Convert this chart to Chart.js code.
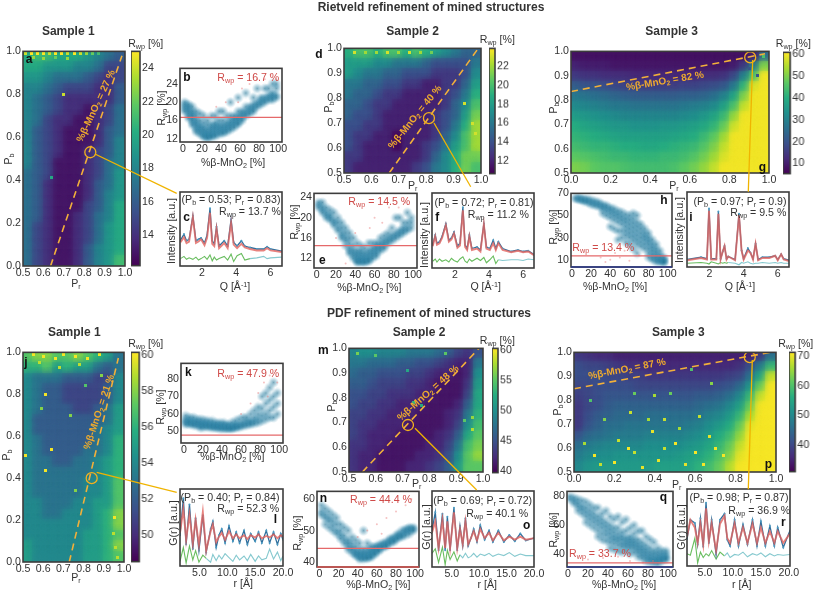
<!DOCTYPE html>
<html><head><meta charset="utf-8">
<style>
html,body{margin:0;padding:0;background:#fff;width:817px;height:592px;overflow:hidden}
#root{position:relative;width:817px;height:592px;font-family:"Liberation Sans",Arial,sans-serif}
canvas{position:absolute}
.t{position:absolute;white-space:nowrap;z-index:5;line-height:1;color:#333}
sub{font-size:68%;line-height:0;vertical-align:-0.28em}
sup{font-size:68%;line-height:0;vertical-align:0.4em}
svg{position:absolute;left:0;top:0;z-index:4}
</style>
<script src="https://cdn.jsdelivr.net/npm/chart.js@4"></script>
</head><body><div id="root"><svg width="817" height="592" id="ov"></svg></div>
<script>
/* ---------- heat maps: rows run from high Pb to low Pb, columns from low Pr to high Pr ---------- */
const heatA=[[20,21,21,20,20,20,19,18,17,16],[20,20,19,19,19,18,18,17,15,15],[19,19,18,17,17,17,16,15,14,15],[18,18,17,16,15,15,15,14,14,16],[18,17,16,15,14,14,14,14,14,16],[18,17,16,15,14,14,13,14,15,17],[18,17,15,14,14,13,13,14,15,17],[18,16,15,14,13,13,13,14,16,17],[18,16,15,14,13,13,13,14,16,18],[18,16,15,14,13,13,14,15,16,18],[18,16,15,13,13,13,14,15,17,18],[17,16,15,13,13,13,14,15,17,19],[17,16,14,13,13,13,14,16,17,19],[17,16,14,13,13,13,14,16,18,19],[17,16,14,13,13,13,15,16,18,20],[17,16,14,13,13,14,15,17,18,20],[17,15,14,13,13,14,15,17,19,20],[17,15,14,13,13,14,15,17,19,20],[17,15,14,13,13,14,16,18,19,20],[17,15,14,13,13,14,16,18,19,21]];
const heatD=[[19,20,20,19,20,20,19,20,19,18,17,16,15,15],[18,18,18,17,17,16,16,16,15,14,14,14,14,16],[18,17,16,16,15,15,14,14,14,13,13,13,14,17],[16,16,15,15,14,14,13,13,12,12,13,13,15,18],[16,15,15,14,13,13,12,12,12,12,13,14,16,19],[15,15,14,13,13,12,12,12,12,12,13,15,17,20],[15,14,14,13,12,12,12,12,12,13,14,15,18,21],[14,14,13,13,12,12,12,12,12,13,14,16,19,22],[14,13,13,12,12,11,12,12,12,13,15,17,20,22],[14,13,12,12,12,11,12,12,13,14,16,18,20,22],[13,13,12,12,12,12,12,12,13,15,17,19,21,21],[13,12,12,12,12,12,12,13,14,16,17,19,21,20]];
const heatG=[[8,8,8,8,8,8,8,8,8,8,8,8,8,8,8,8,8,8,10,25],[11,10,10,10,9,9,9,9,9,9,9,9,9,9,9,9,10,15,28,50],[15,14,14,13,13,13,12,12,12,12,12,12,12,13,13,14,18,30,45,60],[22,20,20,19,18,17,17,16,16,16,16,17,17,18,19,21,28,42,58,60],[28,27,26,25,24,23,22,22,22,22,22,23,23,24,26,30,38,50,60,60],[32,31,30,29,28,28,27,27,27,27,27,28,29,30,32,37,45,56,60,60],[36,35,34,33,32,31,31,31,31,31,31,32,33,35,38,43,52,60,60,60],[40,38,37,36,35,35,34,34,34,35,35,36,37,39,42,48,57,60,60,60],[42,41,40,39,38,37,37,37,37,37,38,39,40,43,47,53,60,60,60,60],[44,43,42,42,41,40,40,39,39,40,41,42,43,46,50,56,60,60,60,60],[47,46,45,44,43,43,42,42,42,43,43,44,46,49,53,58,60,60,60,60],[50,49,47,46,46,45,44,44,44,44,45,47,49,52,56,60,60,60,60,60]];
const heatJ=[[57,58,58,57,57,58,57,56,55,53],[56,56,57,55,56,55,55,53,52,53],[54,53,53,53,52,52,52,51,51,54],[54,53,52,52,51,51,51,51,52,54],[54,53,52,52,51,51,51,51,52,54],[54,53,52,52,52,51,51,52,53,55],[54,52,52,52,52,52,52,52,53,55],[54,52,52,52,52,52,52,53,54,55],[54,53,52,52,52,52,52,53,54,56],[54,53,52,52,52,52,53,53,54,56],[54,53,53,52,52,53,53,54,55,56],[54,53,53,53,53,53,53,54,55,56],[54,53,53,53,53,53,54,54,55,57],[54,53,53,53,53,53,54,54,55,57],[54,54,53,53,53,54,54,55,55,57],[54,54,53,53,54,54,54,55,56,58],[54,54,54,54,54,54,54,55,56,58],[54,54,54,54,54,54,55,55,56,57],[55,54,54,54,54,54,55,55,56,58],[55,54,54,54,54,54,55,55,56,57]];
const heatM=[[49,50,50,49,49,49,48,48,48,47,46,44,43,45],[48,48,47,47,47,46,46,45,45,44,43,42,42,48],[47,46,46,45,45,45,44,44,43,42,42,41,42,50],[46,46,45,44,44,44,43,43,42,41,41,41,43,51],[45,45,44,44,43,43,43,42,42,41,41,41,44,52],[45,44,44,43,43,42,42,42,41,41,41,42,46,52],[44,44,43,43,42,42,42,41,41,41,42,43,48,53],[44,43,43,42,42,42,41,41,41,41,42,44,50,54],[44,43,42,42,42,41,41,41,41,42,43,46,52,55],[43,43,42,42,41,41,41,41,42,42,44,48,54,56],[43,42,42,41,41,41,41,42,42,43,45,50,55,57],[43,42,42,41,41,41,42,42,43,44,46,51,55,55]];
const heatP=[[38,37,36,36,35,35,35,35,35,35,35,35,35,35,35,35,35,35,38,46],[41,40,40,39,38,37,37,36,36,36,36,36,36,36,36,36,37,41,48,58],[41,41,41,40,40,39,39,38,38,38,38,38,38,38,38,39,40,46,55,68],[40,40,41,41,41,41,40,40,40,40,40,40,40,40,41,42,45,52,62,71],[39,40,41,42,42,42,42,42,42,42,42,42,43,43,44,46,50,58,68,71],[38,40,41,43,44,44,44,44,44,44,44,44,45,46,47,50,54,62,71,71],[38,41,43,44,45,45,45,46,46,46,46,46,47,49,50,53,58,66,71,71],[38,42,44,46,46,47,47,47,47,47,47,48,49,51,53,56,62,70,71,71],[42,45,46,47,48,48,48,49,49,49,49,50,51,53,56,59,65,71,71,71],[46,48,49,50,50,50,50,51,51,51,51,52,53,55,58,62,68,71,71,71],[48,50,51,51,52,52,52,52,52,52,53,54,55,57,60,64,70,71,71,71],[50,52,53,53,53,53,53,53,54,54,54,55,57,59,62,67,71,71,71,71]];
/* isolated hot cells [Pr, Pb, Rwp] */
const hotA=[[.7,.8,24],[.64,.41,20],[.51,.988,24],[.54,.988,25],[.57,.988,25],[.6,.988,25],[.63,.988,24],[.66,.988,25],[.69,.988,25],[.72,.988,24],[.75,.988,25],[.78,.988,24],[.81,.988,23],[.84,.988,22],[.87,.988,21],[.55,.97,23],[.6,.965,23],[.66,.97,22],[.72,.965,23]];
const hotD=[[.54,.985,23],[.58,.985,22],[.62,.985,22],[.66,.985,23],[.7,.985,22],[.74,.985,23],[.78,.985,22],[.82,.985,21],[.94,.78,23],[.97,.7,23],[.98,.66,23]];
const hotG=[[.97,.98,45],[.94,.9,20],[.9,.93,20]];
const hotJ=[[.61,.8,60],[.733,.7,58],[.643,.536,60],[.51,.51,60],[.613,.437,60],[.81,.84,57],[.594,.73,58],[.89,.889,58],[.955,.214,60],[.96,.07,59],[.947,.135,59],[.97,.02,59],[.76,.34,58],[.55,.99,60],[.6,.98,60],[.66,.97,60],[.7,.99,60],[.76,.98,60],[.82,.97,60],[.88,.99,60],[.58,.95,59],[.68,.93,59],[.78,.94,59]];
const hotM=[[.53,.98,56],[.6,.97,55],[.72,.91,52],[.74,.78,53],[.77,.77,52],[.86,.98,55],[.96,.72,57],[.93,.71,55],[.96,.67,58]];
const hotP=[[.1,.57,71],[.05,.62,66],[.13,.53,68],[.28,.75,68],[.27,.6,71],[.2,.54,71],[.4,.82,66],[.39,.67,70],[.3,.58,68],[.45,.72,68],[.5,.62,71],[.42,.55,70],[.45,.6,68],[.55,.53,70],[.6,.58,71],[.58,.93,60],[.52,.68,66],[.68,.87,64],[.7,.6,71],[.67,.65,70],[.74,.57,71],[.37,.72,66],[.15,.72,64],[.08,.8,60],[.3,.83,62],[.62,.73,68],[.64,.53,71],[.34,.52,70],[.22,.63,68],[.48,.83,62]];

/* ---------- scatter clouds: each entry is [%beta, Rwp, Rwp, ...] ---------- */
const cloudB=[[2,20,19.5,19,18.5,18],[6,19.5,19,18.5,18,17.5,17,16.5],[10,19,18,17.5,17,16.5,16,15.5,15],[14,18,17,16,15.5,15,14.5,14,13.5],[18,17.5,16,15,14.5,14,13.5,13],[22,17,15.5,14.5,14,13.5,13,12.7,12.4],[26,16,15,14,13.5,13,12.7,12.4,12.2],[30,17,15,14.5,14,13.5,13,12.7,12.4],[34,17,15.5,15,14.5,14,13.5,13,12.6],[38,18,16,15,14.5,14,13.5,13],[42,18,16,15,14.5,14,13.5,13.2],[46,17,15.5,15,14.5,14,13.5],[50,20,17,16,15.5,15,14.5,14],[54,17,16.5,16,15.5,15,14.5],[58,21,18,17,16.5,16,15.5,15.2],[62,18,17.5,17,16.5,16],[66,22,19,18,17.5,17],[70,19,18.5,18,17.5],[74,21,19.5,19,18.5,18],[78,23,20,19.5,19],[82,21,20.5,20,19.5],[86,23,21,20.5,20],[90,23,21.5,21,20.5],[94,24,22,21.5,21,20.5],[98,24,23,21.5,21]];
const cloudE=[[2,23,22.5,22],[6,23,22,21.5,21],[10,22,21,20.5,20],[14,21.5,20.5,20,19.5],[18,21,19.5,19,18.5],[22,20,19,18,17.5],[26,19,18,17,16.5,16],[30,18,17,16,15.5,14.5],[34,17,16,15,14,13.5,13],[38,16,14.5,13.5,13,12.5,12],[42,15,13.5,13,12.5,12,11.7,11.4,11.2],[46,14.5,13.5,13,12.5,12,11.7,11.4,11.2],[50,14,13,12.5,12,11.7,11.4,11.2],[54,15,13.5,13,12.5,12,11.7,11.4],[58,15,14,13.5,13,12.5,12],[62,15,14.5,14,13.5,13,12.5],[66,16,15,14.5,14,13.5],[70,16.5,15.5,15,14.5,14],[74,17,16,15.5,15],[78,18,16.5,16,15.5],[82,20,17,16.5,16],[86,20,17.5,17,16.5],[90,19,18,17.5,17],[94,21,19,18,17.5],[98,20,19,18]];
const cloudH=[[4,66,65],[8,66,65,64],[12,65,64,63],[16,65,63,62],[20,64,62,60],[24,63,61,59],[28,62,60,58],[32,60,58,56,52],[36,59,57,54,50],[40,57,55,52,48,40],[44,56,53,50,46,38],[48,54,51,48,44,36,28],[52,53,49,46,42,36,30],[56,51,47,44,40,36,32,26],[60,50,46,42,38,34,30,24],[64,52,47,43,39,35,31,27,20],[68,50,44,40,36,32,28,24,16],[72,42,38,34,30,26,22],[76,38,34,31,28,24,20],[80,34,30,27,24,20,16,12],[84,28,24,21,18,15,12,10],[88,24,20,17,14,12,10,8],[92,18,14,12,10,9,8],[96,12,10,9,8,7.5]];
const cloudK=[[2,59,57,56,55,54],[6,58,56.5,55.5,55,54],[10,58,56,55,54.5,53.5],[14,57,55.5,55,54,53],[18,57,55,54.5,54,53,52],[22,56.5,55,54,53.5,52.5],[26,56,54.5,54,53,52.5],[30,56,54,53.5,53,52],[34,55,54,53,52.5,52],[38,55,53.5,53,52.5,51.5],[42,55,53.5,53,52,51.5],[46,54,53,52.5,52,51.5],[50,55,53,52.5,52,51.5],[54,56,54,53,52.5,52],[58,57,54,53,52.5],[62,58,55,54,53],[66,58,56,54.5,53.5],[70,60,56,55,54],[74,62,58,56,54.5],[78,64,60,57,55],[82,70,63,59,56],[86,72,66,60,57],[90,75,68,62,58],[94,78,70,64,58],[98,72,66,60]];
const cloudN=[[2,58,56,55],[6,57,55,54,52],[10,56,54,53,51],[14,55,53,51.5,50],[18,54,52,50,49],[22,52,50,48.5,47.5],[26,51,48.5,47,46],[30,50,47,46,45,44],[34,48,46,44.5,44,43],[38,47,45,43.5,43,42.5,42],[42,46,44,43,42.5,42,41.5,41],[46,50,44,43,42.5,42,41.5,41],[50,46,44,43,42.5,42,41.5,41.2],[54,45,44,43.5,43,42.5,42,41.5],[58,45,44.5,44,43.5,43,42.5],[62,45.5,45,44.5,44,43.5],[66,46,45.5,45,44.5],[70,46.5,46,45.5,45],[74,47.5,47,46.5,46],[78,48,47.5,47,46.5],[82,49,48.5,48,47.5],[86,50,49,48.5,48],[90,50.5,50,49.5,48.5],[94,51,50.5,50,49],[98,51,50.5,50]];
const cloudQ=[[2,80,78],[6,79,77,75],[10,78,75,73,70],[14,77,73,71,68],[18,76,72,69,66,62],[22,74,70,67,64,60],[26,72,68,65,62,58],[30,72,66,63,60,56,52],[34,68,64,61,58,54,50],[38,70,62,59,56,53,49],[42,66,60,57,54,51,48,44],[46,64,58,55,52,50,47,43],[50,66,58,54,51,49,46,42],[54,62,55,52,50,47,45,41],[58,64,56,51,49,47,45,42],[62,58,52,50,48,46,44,40],[66,60,54,50,48,46,44,41],[70,56,50,47,45,43,41,38],[74,56,48,45,43,41,39,37],[78,52,46,43,41,39,37,35],[82,50,44,41,39,37,36,34],[86,48,42,40,38,36,35,34],[90,44,41,39,37,36,35,33],[94,42,40,38,37,36,35],[98,42,40,38,37,36]];
/* faint red points [%beta, Rwp] */
const redB=[[62,23],[70,24],[78,25],[86,25],[92,26],[58,20],[45,20],[35,19],[98,25]];
const redE=[[60,20],[68,19],[75,22],[85,22],[92,23],[40,17],[30,11],[20,16],[55,18]];
const redH=[[30,12],[40,10],[50,12],[60,9],[70,14],[55,18],[45,16],[35,8]];
const redK=[[70,66],[78,72],[84,78],[90,82],[96,85],[98,78],[60,60],[88,70]];
const redN=[[50,50],[60,52],[70,54],[80,56],[90,58],[96,60],[40,48],[65,49]];
const redQ=[[20,36],[35,37],[50,38],[62,35],[75,34],[85,35]];
const rwpLines={b:16.7,e:14.5,h:13.4,k:47.9,n:44.4,q:33.7};

/* ---------- refinement fits ---------- */
const qC=[.75,.95,1.1,1.25,1.47,1.65,1.8,1.95,2.15,2.3,2.47,2.6,2.72,2.85,3,3.3,3.5,3.7,3.85,4.05,4.3,4.5,4.8,5.2,5.6,5.8,6,6.65];
const obsC=[35,43,34,36,68,34,36,38,31,42,78,34,30,53,27,34,27,63,32,27,34,27,25,23,23,26,23,20];
const calcC=[32,39,31,33,66,31,33,36,28,38,72,30,27,50,24,31,24,58,29,24,30,25,23,21,21,24,21,19];
const diffC=[10,13,9,11,9,12,8,10,13,9,15,7,12,8,10,13,8,16,6,14,17,8,10,11,13,10,11,12];
const qF=[.7,.85,.95,1.1,1.25,1.47,1.65,1.8,1.95,2.15,2.3,2.47,2.6,2.72,2.85,3,3.3,3.5,3.7,3.85,4.05,4.25,4.4,4.55,4.8,5.3,5.7,6,6.3,6.64];
const obsF=[31,44,33,35,42,59,37,40,48,29,33,81,31,26,44,26,28,24,59,28,26,37,26,35,26,22,24,22,23,18];
const calcF=[29,42,31,33,40,57,35,38,46,27,30,77,28,24,42,24,26,22,58,26,24,33,24,33,24,21,23,21,22,17];
const diffF=[9,12,8,12,9,11,8,13,10,8,12,15,9,7,12,9,13,10,14,7,11,16,6,11,10,11,11,10,12,11];
const qI=[.7,1.5,1.85,1.97,2.1,2.4,2.52,2.65,2.78,2.88,3,3.1,3.5,3.73,3.88,4,4.25,4.4,4.55,4.7,4.85,5.1,5.5,5.85,6,6.2,6.35,6.66];
const obsI=[10,13,11,78,11,11,74,11,21,28,11,14,10,71,22,11,25,19,11,31,10,13,13,15,10,17,11,9];
const calcI=[9,12,10,75,10,10,71,10,21,28,10,14,9,69,22,10,22,19,10,31,9,12,12,15,9,17,10,8];
const diffI=[5,6,5,4,7,5,4,6,5,6,5,6,5,3,6,5,7,5,4,5,5,6,5,6,5,6,5,5];
const rL=[1.5,2.1,2.6,3.2,3.8,4.3,4.9,5.6,6.2,7,7.4,8,8.5,9,9.6,10.3,11,11.6,12.2,13,13.6,14.2,15,15.6,16.2,17,17.6,18.3,19,19.6,20];
const obsL=[40,88,28,80,22,62,20,66,18,48,58,24,40,48,30,52,32,44,30,46,28,42,32,44,30,46,30,44,28,42,34];
const calcL=[43,74,34,67,29,60,27,70,20,45,54,31,38,43,34,45,36,41,36,40,35,40,37,41,36,39,37,41,36,40,38];
const diffL=[6,24,4,26,8,20,5,14,10,5,15,7,14,9,16,11,6,14,8,13,7,15,6,13,8,10,22,9,18,7,13];
const rO=[1.4,2,2.6,3.3,3.8,4.2,4.7,5.4,6,6.5,7,7.5,8,8.5,9,9.6,10.2,11,11.8,12.5,13.5,14.5,15.5,16.5,17.5,18.5,20];
const obsO=[48,72,22,70,22,66,22,78,22,54,28,64,28,38,50,33,55,36,48,33,48,33,42,34,44,35,38];
const calcO=[45,60,25,62,25,60,25,72,25,50,30,60,30,38,47,35,50,38,45,35,45,35,40,36,40,36,38];
const diffO=[18,24,6,26,3,22,10,20,8,16,12,18,12,14,18,13,17,15,18,14,17,15,19,14,17,15,15];
const rR=[1.8,2.4,3.2,3.7,4.2,4.7,5.2,5.7,6.2,7,7.7,8.5,9,9.5,10.3,11,11.8,12.6,13.5,14.3,15,15.8,16.6,17.4,18,19,20.2];
const obsR=[35,60,56,28,62,25,82,30,60,15,60,68,34,26,60,26,54,28,60,26,58,26,52,26,50,24,46];
const calcR=[38,60,50,30,55,28,75,32,55,20,55,65,36,30,55,30,50,30,55,30,50,30,45,30,45,30,42];
const diffR=[16,14,36,4,18,11,16,13,20,9,18,13,17,11,15,14,18,12,16,14,17,12,16,13,15,14,15];

/* ---------- dashed guide [start, end] and circled structure ---------- */
const guideA=[[.635,0],[.985,.98]],markA=[.83,.53];
const guideD=[[.665,.5],[.99,1]],markD=[.81,.72];
const guideG=[[0,.835],[.98,.99]],markG=[.905,.975];
const guideJ=[[.729,0],[.972,.973]],markJ=[.84,.4];
const guideM=[[.55,.5],[.985,1]],markM=[.72,.69];
const guideP=[[0,.848],[.97,1]],markP=[.87,.98];

const root=document.getElementById('root');
const VIR=[[68,1,84],[71,44,122],[59,81,139],[44,113,142],[33,144,141],[39,173,129],[92,200,99],[170,220,50],[253,231,37]];
function vir(t){t=Math.max(0,Math.min(1,t))*8;const i=Math.min(7,Math.floor(t)),f=t-i,a=VIR[i],b=VIR[i+1];
 return `rgb(${a.map((c,k)=>Math.round(c+(b[k]-c)*f)).join(',')})`;}
const cache={};
function cell(col,w,h){const k=col+w+'x'+h;if(cache[k])return cache[k];const c=document.createElement('canvas');c.width=w;c.height=h;const g=c.getContext('2d');g.fillStyle=col;g.fillRect(0,0,w,h);return cache[k]=c;}
/* a cell with feathered edges, laid over the opaque cells so the map reads as soft as the reference */
function soft(col,w,h){const k='s'+col+w+'x'+h;if(cache[k])return cache[k];const c=document.createElement('canvas');c.width=2*w;c.height=2*h;const g=c.getContext('2d');g.filter=`blur(${Math.min(w,h)/3.4}px)`;g.fillStyle=col;g.fillRect(w/2,h/2,w,h);return cache[k]=c;}
function blob(){if(cache.blob)return cache.blob;const c=document.createElement('canvas');c.width=c.height=11;const g=c.getContext('2d'),l=g.createRadialGradient(5.5,5.5,0,5.5,5.5,5.5);l.addColorStop(0,'rgba(30,112,145,.6)');l.addColorStop(.5,'rgba(45,130,165,.32)');l.addColorStop(1,'rgba(70,150,185,0)');g.fillStyle=l;g.fillRect(0,0,11,11);return cache.blob=c;}
const TICKCOL='#333',FONT='"Liberation Sans",Arial,sans-serif',TS=10.6;
const frame={id:'frame',afterDraw(ch,_,o){const a=ch.chartArea,g=ch.ctx;g.save();g.lineWidth=1.6;g.strokeStyle='#3c3c3c';g.strokeRect(a.left,a.top,a.width,a.height);
 if(o.bottom){g.strokeStyle=o.bottom;g.beginPath();g.moveTo(a.left,a.bottom);g.lineTo(a.right,a.bottom);g.stroke();}g.restore();}};
function mk(x,y,w,h,ml,mt,mr,mb,datasets,sx,sy,plug,popt){
 const c=document.createElement('canvas');c.width=w+ml+mr;c.height=h+mt+mb;c.style.left=(x-ml)+'px';c.style.top=(y-mt)+'px';c.style.width=c.width+'px';c.style.height=c.height+'px';root.appendChild(c);
 return new Chart(c,{type:'scatter',data:{datasets},plugins:plug,options:{responsive:false,animation:false,events:[],layout:{padding:{left:0,top:mt,right:mr,bottom:0}},
  plugins:{legend:{display:false},tooltip:{enabled:false},frame:popt||{}},
  scales:{x:sx(mb),y:sy(ml)}}});
}
function axisX(r,vals,d){return mb=>({type:'linear',position:'bottom',min:r[0],max:r[1],grid:{display:false,drawTicks:false},border:{display:false},
 ticks:{display:true,autoSkip:false,maxRotation:0,padding:1,color:TICKCOL,font:{family:FONT,size:TS},callback:v=>Number(v).toFixed(d)},
 afterBuildTicks:s=>{s.ticks=vals.map(value=>({value}));},afterFit:s=>{s.height=mb;}});}
function axisY(r,vals,d){return ml=>({type:'linear',position:'left',min:r[0],max:r[1],grid:{display:false,drawTicks:false},border:{display:false},
 ticks:{display:!!vals,autoSkip:false,padding:2,color:TICKCOL,font:{family:FONT,size:TS},callback:v=>Number(v).toFixed(d)},
 afterBuildTicks:s=>{if(vals)s.ticks=vals.map(value=>({value}));},afterFit:s=>{s.width=ml;}});}
const M=[30,8,14,18];
/* Chart.js paints the first dataset last, so marks on top come first */
function heat(pos,xr,yr,xt,yt,grid,hot,cb,guide,mark){
 const [x,y,w,h]=pos,rows=grid.length,cols=grid[0].length,cw=Math.ceil(w/cols)+1,chh=Math.ceil(h/rows)+1;
 const pts=[];grid.forEach((row,r)=>row.forEach((v,i)=>pts.push({x:xr[0]+(i+.5)*(xr[1]-xr[0])/cols,y:yr[1]-(r+.5)*(yr[1]-yr[0])/rows,v})));
 const col=v=>vir((v-cb[0])/(cb[1]-cb[0]));
 const ds=[{data:[{x:mark[0],y:mark[1]}],pointRadius:5.5,pointBorderWidth:1.3,pointBorderColor:'#f2b01e',pointBackgroundColor:'rgba(0,0,0,0)',pointStyle:'circle'},
  {data:guide.map(p=>({x:p[0],y:p[1]})),showLine:true,borderColor:'#f2b03a',borderWidth:1.6,borderDash:[7,5],pointRadius:0},
  {data:hot.map(p=>({x:p[0],y:p[1],v:p[2]})),pointRadius:1,pointBorderWidth:0,pointStyle:c=>c.raw?cell(col(c.raw.v),3,3):'circle'},
  {data:pts,pointRadius:1,pointBorderWidth:0,pointStyle:c=>c.raw?soft(col(c.raw.v),cw,chh):'circle'},
  {data:pts,pointRadius:1,pointBorderWidth:0,pointStyle:c=>c.raw?cell(col(c.raw.v),cw,chh):'circle'}];
 mk(x,y,w,h,M[0],M[1],M[2],M[3],ds,axisX(xr,xt,1),axisY(yr,yt,1),[frame]);
}
function bar(pos,r,vals){const [x,y,w,h]=pos;
 const grad={id:'grad',beforeDatasetsDraw(ch){const a=ch.chartArea,g=ch.ctx,l=g.createLinearGradient(0,a.bottom,0,a.top);VIR.forEach((c,i)=>l.addColorStop(i/8,`rgb(${c})`));g.fillStyle=l;g.fillRect(a.left,a.top,a.width,a.height);}};
 const c=document.createElement('canvas');const W=w+30,H=h+16;c.width=W;c.height=H;c.style.left=x+'px';c.style.top=(y-8)+'px';c.style.width=W+'px';c.style.height=H+'px';root.appendChild(c);
 new Chart(c,{type:'scatter',data:{datasets:[{data:[]}]},plugins:[grad,frame],options:{responsive:false,animation:false,events:[],layout:{padding:{top:8,bottom:8}},plugins:{legend:{display:false},tooltip:{enabled:false},frame:{}},
 scales:{x:{display:false},y:{position:'right',min:r[0],max:r[1],grid:{display:false,drawTicks:false},border:{display:false},afterFit:s=>{s.width=30;},
 afterBuildTicks:s=>{s.ticks=vals.map(value=>({value}));},ticks:{autoSkip:false,padding:2,color:TICKCOL,font:{family:FONT,size:TS},callback:v=>String(v)}}}}});
}
function cloud(pos,xr,yr,yt,data,red,rw,bottom){const [x,y,w,h]=pos;const pts=[];data.forEach(e=>e.slice(1).forEach(v=>pts.push({x:e[0],y:v})));
 const ds=[{data:[{x:xr[0],y:rw},{x:xr[1],y:rw}],showLine:true,borderColor:'#e5696a',borderWidth:1.3,pointRadius:0},
  {data:red.map(p=>({x:p[0],y:p[1]})),pointRadius:1,pointBorderWidth:0,pointBackgroundColor:'rgba(232,120,120,.45)'},
  {data:pts,pointRadius:1,pointBorderWidth:0,pointStyle:blob()}];
 mk(x,y,w,h,M[0],M[1],M[2],M[3],ds,axisX(xr,[0,20,40,60,80,100],0),axisY(yr,yt,0),[frame],{bottom});
}
function fit(pos,xr,xt,d,xs,obs,calc,diff,lim){const [x,y,w,h]=pos;const z=a=>xs.map((v,i)=>({x:v,y:a[i]}));
 const ds=[{data:z(calc),showLine:true,borderColor:'rgba(226,100,95,.8)',borderWidth:1.9,pointRadius:0},
  {data:z(obs),showLine:true,borderColor:'#2f6f9c',borderWidth:1.3,pointRadius:1,pointBackgroundColor:'#4a9cc4',pointBorderWidth:0},
  {data:z(diff),showLine:true,borderWidth:1.1,pointRadius:0,borderColor:'#69bd5f',segment:{borderColor:c=>c.p0.parsed.x>lim?'#86c9cf':'#69bd5f'}}];
 mk(x,y,w,h,M[0],M[1],M[2],M[3],ds,axisX(xr,xt,d),axisY([0,100],null,0),[frame]);
}
const P5=[.5,.6,.7,.8,.9,1],P10=[0,.2,.4,.6,.8,1];
heat([22.7,50.7,102.3,215],[.5,1],[0,1],P5,P10,heatA,hotA,[12.2,25],guideA,markA);
bar([131,50.7,9,215],[12.2,25],[14,16,18,20,22,24]);
cloud([180,68.3,102.7,74.4],[-3,104],[11.3,27.4],[12,16,20,24],cloudB,redB,rwpLines.b);
fit([180,192.3,102.7,74.4],[.72,6.67],[2,4,6],0,qC,obsC,calcC,diffC,4.6);
heat([344,48.3,137,125.7],[.5,1],[.5,1],P5,P5,heatD,hotD,[10.7,23.85],guideD,markD);
bar([489.3,48.3,6,125.7],[10.7,23.85],[12,14,16,18,20,22]);
cloud([314.3,193.3,103,75],[-2.8,104],[10.1,24.8],[12,16,20,24],cloudE,redE,rwpLines.e);
fit([431.7,192.7,102.6,75.6],[.66,6.64],[2,4,6],0,qF,obsF,calcF,diffF,4.5);
heat([571.3,51,198,122.7],[0,1],[.5,1],P10,P5,heatG,hotG,[5.3,61],guideG,markG);
bar([783.3,51.5,7.4,122.2],[5.3,61],[10,20,30,40,50,60]);
cloud([570.7,192.7,101,74],[-1,104.5],[3.4,70],[10,30,50,70],cloudH,redH,rwpLines.h,'#2c3a8c');
fit([686.7,191.7,102.6,75.6],[.68,6.66],[2,4,6],0,qI,obsI,calcI,diffI,3);
heat([22.7,351.7,101.3,210],[.5,1],[0,1],P5,P10,heatJ,hotJ,[48.5,60.15],guideJ,markJ);
bar([131,351.7,8.7,210],[48.5,60.15],[50,52,54,56,58,60]);
cloud([180.7,362.7,102.6,80],[-3,104],[43.4,88.9],[50,60,70,80],cloudK,redK,rwpLines.k);
fit([180,489,103.3,77],[1.5,20],[5,10,15,20],1,rL,obsL,calcL,diffL,6);
heat([349,348.3,134.3,124.4],[.5,1],[.5,1],P5,P5,heatM,hotM,[39.7,60.3],guideM,markM);
bar([491.7,348.3,6,124.4],[39.7,60.3],[40,45,50,55,60]);
cloud([316.7,490.7,102.3,76.6],[-2.5,104],[38.5,62.4],[40,50,60],cloudN,redN,rwpLines.n,'#d9534f');
fit([432,490.7,102.3,76.6],[1.4,20],[5,10,15,20],1,rO,obsO,calcO,diffO,6);
heat([574,351.7,202,120.6],[0,1],[.5,1],P10,P5,heatP,hotP,[31,71.4],guideP,markP);
bar([789.3,351.7,6.7,120.6],[31,71.4],[40,50,60,70]);
cloud([567.3,490.7,106,76],[-1,105],[30.8,83.5],[40,60,80],cloudQ,redQ,rwpLines.q,'#2c3a8c');
fit([687.3,489.3,103.4,77.4],[1.8,20.2],[5,10,15,20],1,rR,obsR,calcR,diffR,8);

/* connector lines */
const links=[[95,154,176.7,193.3],[434,123,470.7,186.7],[752.7,60,748.3,191.7],[96.7,472.3,176.7,492.3],[415,428.3,476.7,490],[752.3,360,748.3,489.3]];
document.getElementById('ov').innerHTML=links.map(l=>`<line x1="${l[0]}" y1="${l[1]}" x2="${l[2]}" y2="${l[3]}" stroke="#f0b400" stroke-width="1.3"/>`).join('');

/* text */
function T(html,x,y,o={}){const d=document.createElement('div');d.className='t';d.innerHTML=html;d.style.left=x+'px';d.style.top=y+'px';
 d.style.transform=`translate(-50%,-50%)`+(o.r?` rotate(${o.r}deg)`:'');d.style.fontSize=(o.s||10.6)+'px';if(o.b)d.style.fontWeight='bold';if(o.c)d.style.color=o.c;if(o.ls)d.style.letterSpacing=o.ls+'px';root.appendChild(d);}
const Rw='R<sub>wp</sub> [%]',Pr='P<sub>r</sub>',Pb='P<sub>b</sub>',MN='%β-MnO<sub>2</sub> [%]',QQ='Q [Å<sup>-1</sup>]',RR='r [Å]';
T('Rietveld refinement of mined structures',431,7,{b:1,s:12});
T('PDF refinement of mined structures',429,312.5,{b:1,s:12});
[[68.3,30.7],[412.7,30.7],[671.7,30.7],[74.3,331.7],[419,331.7],[678.3,331.7]].forEach((p,i)=>T('Sample '+(i%3+1),p[0],p[1],{b:1,s:12}));
[[Pr,76,283],[Pb,8,159,-90],[Rw,145.7,43.3],[Rw,160.7,108,-90],[MN,233,161.7],['Intensity [a.u.]',171,230.7,-90],[QQ,235,285.7],
 [Pb,327.7,107.3,-90],[Pr,412.7,185.3],[Rw,497.3,39.3],[Rw,294,221.7,-90],[MN,369.3,286.7],['Intensity [a.u.]',424,235,-90],[QQ,485.7,285.7],
 [Pb,553.3,108.3,-90],[Pr,674,185],[Rw,793.3,42.7],[Rw,553.3,226.7,-90],[MN,615,285.7],['Intensity [a.u.]',679.3,230,-90],[QQ,740,285.7],
 [Pb,6,455,-90],[Pr,76,576.7],[Rw,145.7,342.7],[Rw,160,406.7,-90],[MN,232.3,456],['G(r) [a.u.]',172.7,522.7,-90],[RR,243.3,583.3],
 [Pb,331,406,-90],[Pr,416.7,482.7],[Rw,497.3,340],[Rw,296.7,533.3,-90],[MN,378.3,584],['G(r) [a.u.]',426,526.7,-90],[RR,487.3,584],
 [Pb,556.7,410,-90],[Pr,676.7,484],[Rw,795.7,343],[Rw,553,530,-90],[MN,624,584],['G(r) [a.u.]',680.7,526.7,-90],[RR,741.7,584]
].forEach(a=>T(a[0],a[1],a[2],{r:a[3]}));
[['a',29,59],['b',187,77],['c',186.7,216.7],['d',319,54],['e',322.3,260],['f',437.3,216.7],['g',762.3,166.7],['h',664,200],['i',691,216.7],['j',26,361.7],['k',188.3,372.3],['l',275.3,519],['m',323.3,350],['n',323.3,498.3],['o',526.7,525],['p',768.3,464.3],['q',663.3,497.3],['r',783.3,521.7]
].forEach(a=>T(a[0],a[1],a[2],{b:1,s:12,c:'#111'}));
[['16.7',248.3,77],['14.5',379.3,200.7],['13.4',603.3,246.7],['47.9',248.3,372.7],['44.4',381,499.3],['33.7',600,553.3]].forEach(a=>T(`R<sub>wp</sub> = ${a[0]} %`,a[1],a[2],{c:'#cf4a48',s:10.6}));
[['0.53','0.83','13.7',231,199,250,210.7],['0.72','0.81','11.2',484,201.7,498.3,214.3],['0.97','0.9','9.5',740,201,758.3,212],['0.40','0.84','52.3',230,496.7,248.3,508.3],['0.69','0.72','40.1',482.7,500,497.3,513.3],['0.98','0.87','36.9',739,497.3,759.3,510]
].forEach(a=>{T(`(P<sub>b</sub> = ${a[0]}; P<sub>r</sub> = ${a[1]})`,a[3],a[4],{s:10.6});T(`R<sub>wp</sub> = ${a[2]} %`,a[5],a[6],{s:10.6});});
[['27',95.7,106,-65],['40',415.3,116.7,-51],['82',665,80.7,-9.5],['21',99.3,411.7,-71.6],['48',428.3,393.3,-41.6],['87',627.3,369,-10.8]
].forEach(a=>T(`%β-MnO<sub>2</sub> = ${a[0]} %`,a[1],a[2],{r:a[3],b:1,s:10,c:'#eeaa2e'}));
</script></body></html>
